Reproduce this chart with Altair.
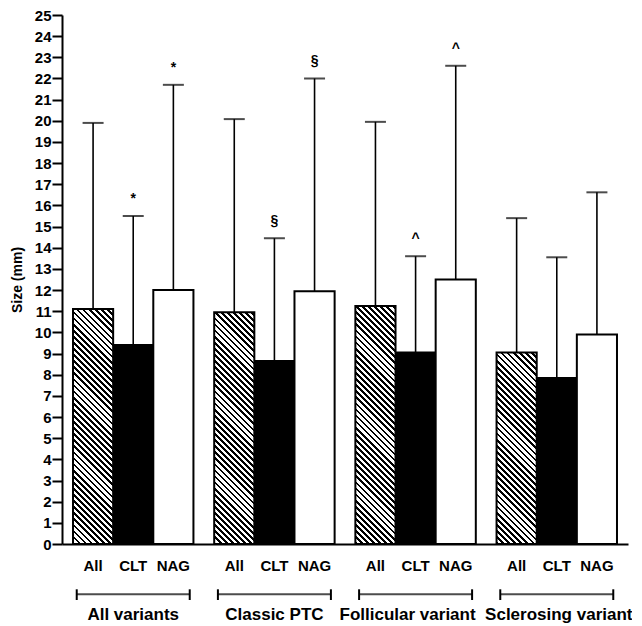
import math
import altair as alt
import pandas as pd

# ---------------- data ----------------
groups = ["All variants", "Classic PTC", "Follicular variant", "Sclerosing variant"]
subgroups = ["All", "CLT", "NAG"]
mean_all = [11.1, 10.95, 11.25, 9.05]
mean_clt = [9.4, 8.65, 9.05, 7.85]
mean_nag = [12.0, 11.95, 12.5, 9.9]
upper_all = [19.9, 20.08, 19.95, 15.4]
upper_clt = [15.5, 14.45, 13.6, 13.55]
upper_nag = [21.7, 22.0, 22.6, 16.62]
note_all = ["", "", "", ""]
note_clt = ["*", "§", "^", ""]
note_nag = ["*", "§", "^", ""]
y_ticks = list(range(0, 26))

rows = []
for i, g in enumerate(groups):
    for s, m, u, n in (("All", mean_all[i], upper_all[i], note_all[i]),
                       ("CLT", mean_clt[i], upper_clt[i], note_clt[i]),
                       ("NAG", mean_nag[i], upper_nag[i], note_nag[i])):
        rows.append({"group": g, "sub": s, "mean": m, "upper": u, "note": n})
df = pd.DataFrame(rows)
df_groups = pd.DataFrame({"group": groups})

# ---------------- layout ----------------
FONT = "Liberation Sans"
PLOT_W, PLOT_H = 566, 529
TOP = 7
Y_MAX = 25
PAD_IN, PAD_OUT = 0.147, 0.078
GROUP_LABEL_DX = [0, 0, -8, 2]
BASE_Y = PLOT_H  # plot-y of the x axis

step = PLOT_W / (len(groups) - PAD_IN + 2 * PAD_OUT)
band = step * (1 - PAD_IN)
sub_w = band / 3.0


def hatch(W, H, period=4.3, frac=0.45):
    """Diagonal '\\' stripes as a hard-stop linear gradient for a W x H box."""
    L = (W + H) / math.sqrt(2)
    gx, gy = 1.0 / H, -1.0 / W
    t = (1.0 / H + 1.0 / W) / (1.0 / H ** 2 + 1.0 / W ** 2)
    x2, y2 = t * gx, 1 + t * gy
    stops = []
    n = int(L / period) + 2
    for k in range(n):
        a = min(1.0, k * period / L)
        b = min(1.0, (k + frac) * period / L)
        c = min(1.0, (k + 1) * period / L)
        stops += [{"offset": round(a, 5), "color": "black"},
                  {"offset": round(b, 5), "color": "black"},
                  {"offset": round(b, 5), "color": "white"},
                  {"offset": round(c, 5), "color": "white"}]
    return {"gradient": "linear", "x1": 0, "y1": 1, "x2": round(x2, 5),
            "y2": round(y2, 5), "stops": stops}


x_scale = alt.Scale(domain=groups, paddingInner=PAD_IN, paddingOuter=PAD_OUT)
x_axis = alt.Axis(labels=False, ticks=False, title=None, domainWidth=2,
                  domainColor="black", grid=False)
xo_scale = alt.Scale(domain=subgroups, paddingInner=0, paddingOuter=0)
y_scale = alt.Scale(domain=[0, Y_MAX], nice=False, zero=True)
y_axis = alt.Axis(values=y_ticks, title="Size (mm)", grid=False)

X = alt.X("group:N", sort=groups, scale=x_scale, axis=x_axis)
XO = alt.XOffset("sub:N", sort=subgroups, scale=xo_scale)


def Y(field):
    return alt.Y(f"{field}:Q", scale=y_scale, axis=y_axis, title="Size (mm)")


base = alt.Chart(df)

bars = base.transform_filter(alt.datum.sub != "All").mark_bar(
    stroke="black", strokeWidth=2
).encode(
    x=X, xOffset=XO, y=Y("mean"),
    fill=alt.Fill("sub:N", scale=alt.Scale(domain=["CLT", "NAG"],
                                           range=["black", "white"]), legend=None),
)

hatch_layers = []
for i, g in enumerate(groups):
    H = mean_all[i] * PLOT_H / Y_MAX
    hatch_layers.append(
        base.transform_filter((alt.datum.group == g) & (alt.datum.sub == "All"))
        .mark_bar(fill=hatch(sub_w, H), stroke="black", strokeWidth=2)
        .encode(x=X, xOffset=XO, y=Y("mean"))
    )

err = base.mark_rule(color="black", strokeWidth=1.6).encode(
    x=X, xOffset=XO, y=Y("mean"), y2="upper:Q"
)
caps = base.mark_tick(orient="horizontal", size=21, thickness=2, color="black").encode(
    x=X, xOffset=XO, y=Y("upper")
)
notes = base.transform_filter(alt.datum.note != "").mark_text(
    dy=-13, baseline="alphabetic", fontSize=14, fontWeight="bold", font=FONT,
    color="black"
).encode(x=X, xOffset=XO, y=Y("upper"), text="note:N")

sub_labels = base.mark_text(
    baseline="alphabetic", fontSize=15, fontWeight="bold", font=FONT, color="black"
).encode(x=X, xOffset=XO, y=alt.value(BASE_Y + 27), text="sub:N")

gbase = alt.Chart(df_groups)
bracket = gbase.mark_tick(orient="horizontal", size=113, thickness=2,
                          color="black").encode(x=X, y=alt.value(BASE_Y + 50.3))
cap_l = gbase.mark_rule(xOffset=-56.5, strokeWidth=2, color="black").encode(
    x=X, y=alt.value(BASE_Y + 45.3), y2=alt.value(BASE_Y + 56))
cap_r = gbase.mark_rule(xOffset=56.5, strokeWidth=2, color="black").encode(
    x=X, y=alt.value(BASE_Y + 45.3), y2=alt.value(BASE_Y + 56))

group_label_layers = []
for i, g in enumerate(groups):
    group_label_layers.append(
        gbase.transform_filter(alt.datum.group == g).mark_text(
            baseline="alphabetic", fontSize=17, fontWeight="bold", font=FONT,
            color="black", dx=GROUP_LABEL_DX[i]
        ).encode(x=X, y=alt.value(BASE_Y + 76), text="group:N")
    )

chart = alt.layer(
    err, bars, *hatch_layers, caps, notes, sub_labels, bracket, cap_l, cap_r,
    *group_label_layers
).properties(
    width=PLOT_W, height=PLOT_H,
    autosize=alt.AutoSizeParams(type="none"),
    padding={"left": 54, "top": TOP, "right": 4, "bottom": 82},
    background="white",
).configure_view(
    stroke=None
).configure_axisY(
    tickSize=10, tickWidth=2, tickColor="black",
    domainWidth=2, domainColor="black",
    labelFontSize=15, labelFontWeight="bold", labelFont=FONT, labelColor="black",
    labelPadding=1,
    titleFontSize=14, titleFontWeight="bold", titleFont=FONT, titleColor="black",
    titleX=-41, titleY=PLOT_H / 2, titleAngle=270,
    titleBaseline="alphabetic", titleAlign="center",
)

chart.save("out.html", embed_options={"renderer": "svg", "actions": False})
